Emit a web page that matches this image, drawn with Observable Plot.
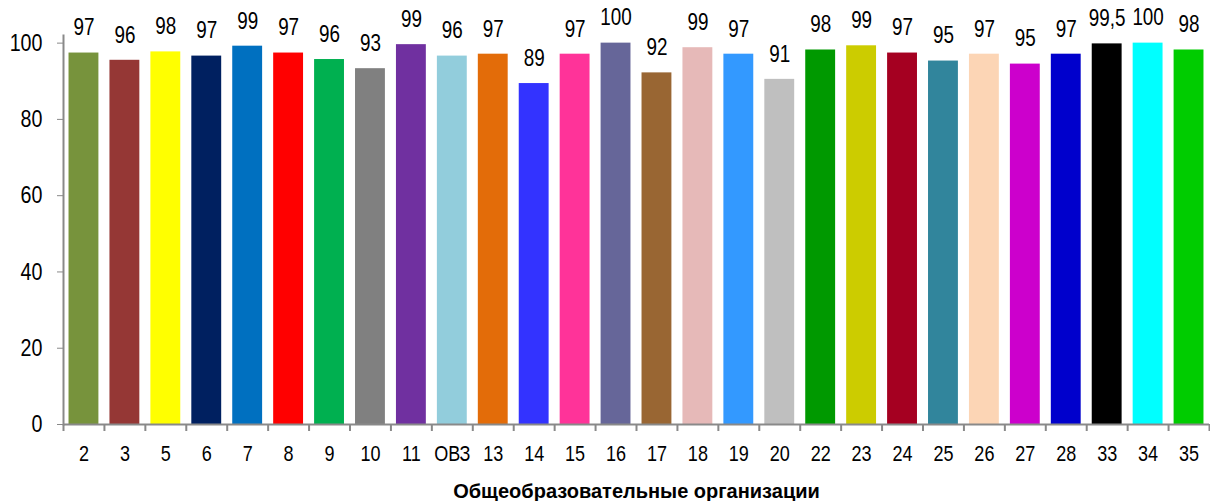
<!DOCTYPE html>
<html>
<head>
<meta charset="utf-8">
<script src="https://cdn.jsdelivr.net/npm/d3@7"></script>
<script src="https://cdn.jsdelivr.net/npm/@observablehq/plot@0.6"></script>
<style>
  html, body { margin: 0; padding: 0; background: #fff; }
  #chart svg { font-family: "Liberation Sans", Arial, sans-serif; }
</style>
</head>
<body>
<div id="chart"></div>
<script>
const categories = ["2","3","5","6","7","8","9","10","11","ОВЗ","13","14","15","16","17","18","19","20","22","23","24","25","26","27","28","33","34","35"];
const values = [97.4, 95.5, 97.7, 96.6, 99.2, 97.4, 95.7, 93.3, 99.6, 96.6, 97.1, 89.4, 97.1, 100, 92.2, 98.8, 97.1, 90.5, 98.2, 99.3, 97.4, 95.3, 97.1, 94.5, 97.1, 99.8, 100, 98.2];
const valueLabels = ["97","96","98","97","99","97","96","93","99","96","97","89","97","100","92","99","97","91","98","99","97","95","97","95","97","99,5","100","98"];
const colors = ["#77933C","#953735","#FFFF00","#002060","#0070C0","#FF0000","#00B050","#808080","#7030A0","#92CDDC","#E36C09","#3333FF","#FF3399","#666699","#996633","#E6B9B8","#3399FF","#BFBFBF","#009900","#CCCC00","#A50021","#31859C","#FCD5B5","#CC00CC","#0000CC","#000000","#00FFFF","#00CC00"];
const yTicks = [0, 20, 40, 60, 80, 100];
const xTitle = "Общеобразовательные организации";

const data = categories.map((c, i) => ({cat: c, value: values[i], label: valueLabels[i], color: colors[i]}));

const W = 1210, H = 501, mL = 63, mR = 1, mT = 35, mB = 77;
const step = (W - mL - mR) / categories.length;
const axisColor = "#898989";
const narrow = 0.82;

const chart = Plot.plot({
  width: W,
  height: H,
  marginLeft: mL,
  marginRight: mR,
  marginTop: mT,
  marginBottom: mB,
  style: {fontSize: "22px", color: "#000", background: "#fff"},
  x: {type: "band", domain: categories, paddingInner: 0.27, paddingOuter: 0.135, align: 0.5, round: false},
  y: {domain: [0, 102]},
  color: {type: "identity"},
  marks: [
    Plot.barY(data, {x: "cat", y: "value", fill: "color"}),
    Plot.ruleY([0], {stroke: axisColor, strokeWidth: 2}),
    Plot.frame({anchor: "left", stroke: axisColor, strokeWidth: 2}),
    Plot.ruleX(data, {x: "cat", dx: -step / 2, y1: 0, y2: 0, insetBottom: -7, stroke: axisColor, strokeWidth: 2}),
    Plot.ruleX(data.slice(-1), {x: "cat", dx: step / 2, y1: 0, y2: 0, insetBottom: -7, stroke: axisColor, strokeWidth: 2}),
    Plot.axisY({ticks: yTicks, tickSize: 6, tickPadding: 15, stroke: axisColor, label: null, fontSize: 24, className: "narrow"}),
    Plot.axisX({tickSize: 0, tickPadding: 21, label: null, fontSize: 22, className: "narrow"}),
    Plot.text(data, {x: "cat", y: "value", text: "label", dy: -25, fontSize: 23, fill: "#000", className: "narrow"}),
    Plot.text([xTitle], {frameAnchor: "bottom", text: d => d, lineAnchor: "bottom", dy: 73, fontSize: 20, fontWeight: "bold", fill: "#000"})
  ]
});

// emulate a narrow (condensed) typeface by compressing glyphs horizontally around each anchor
d3.select(chart).selectAll(".narrow text").each(function() {
  const t = d3.select(this);
  const tr = t.attr("transform");
  if (tr) {
    t.attr("transform", tr + ` scale(${narrow},1)`);
  } else {
    const x = +(t.attr("x") || 0), y = +(t.attr("y") || 0);
    t.attr("x", null).attr("y", null).attr("transform", `translate(${x},${y}) scale(${narrow},1)`);
  }
});

document.getElementById("chart").appendChild(chart);
</script>
</body>
</html>
